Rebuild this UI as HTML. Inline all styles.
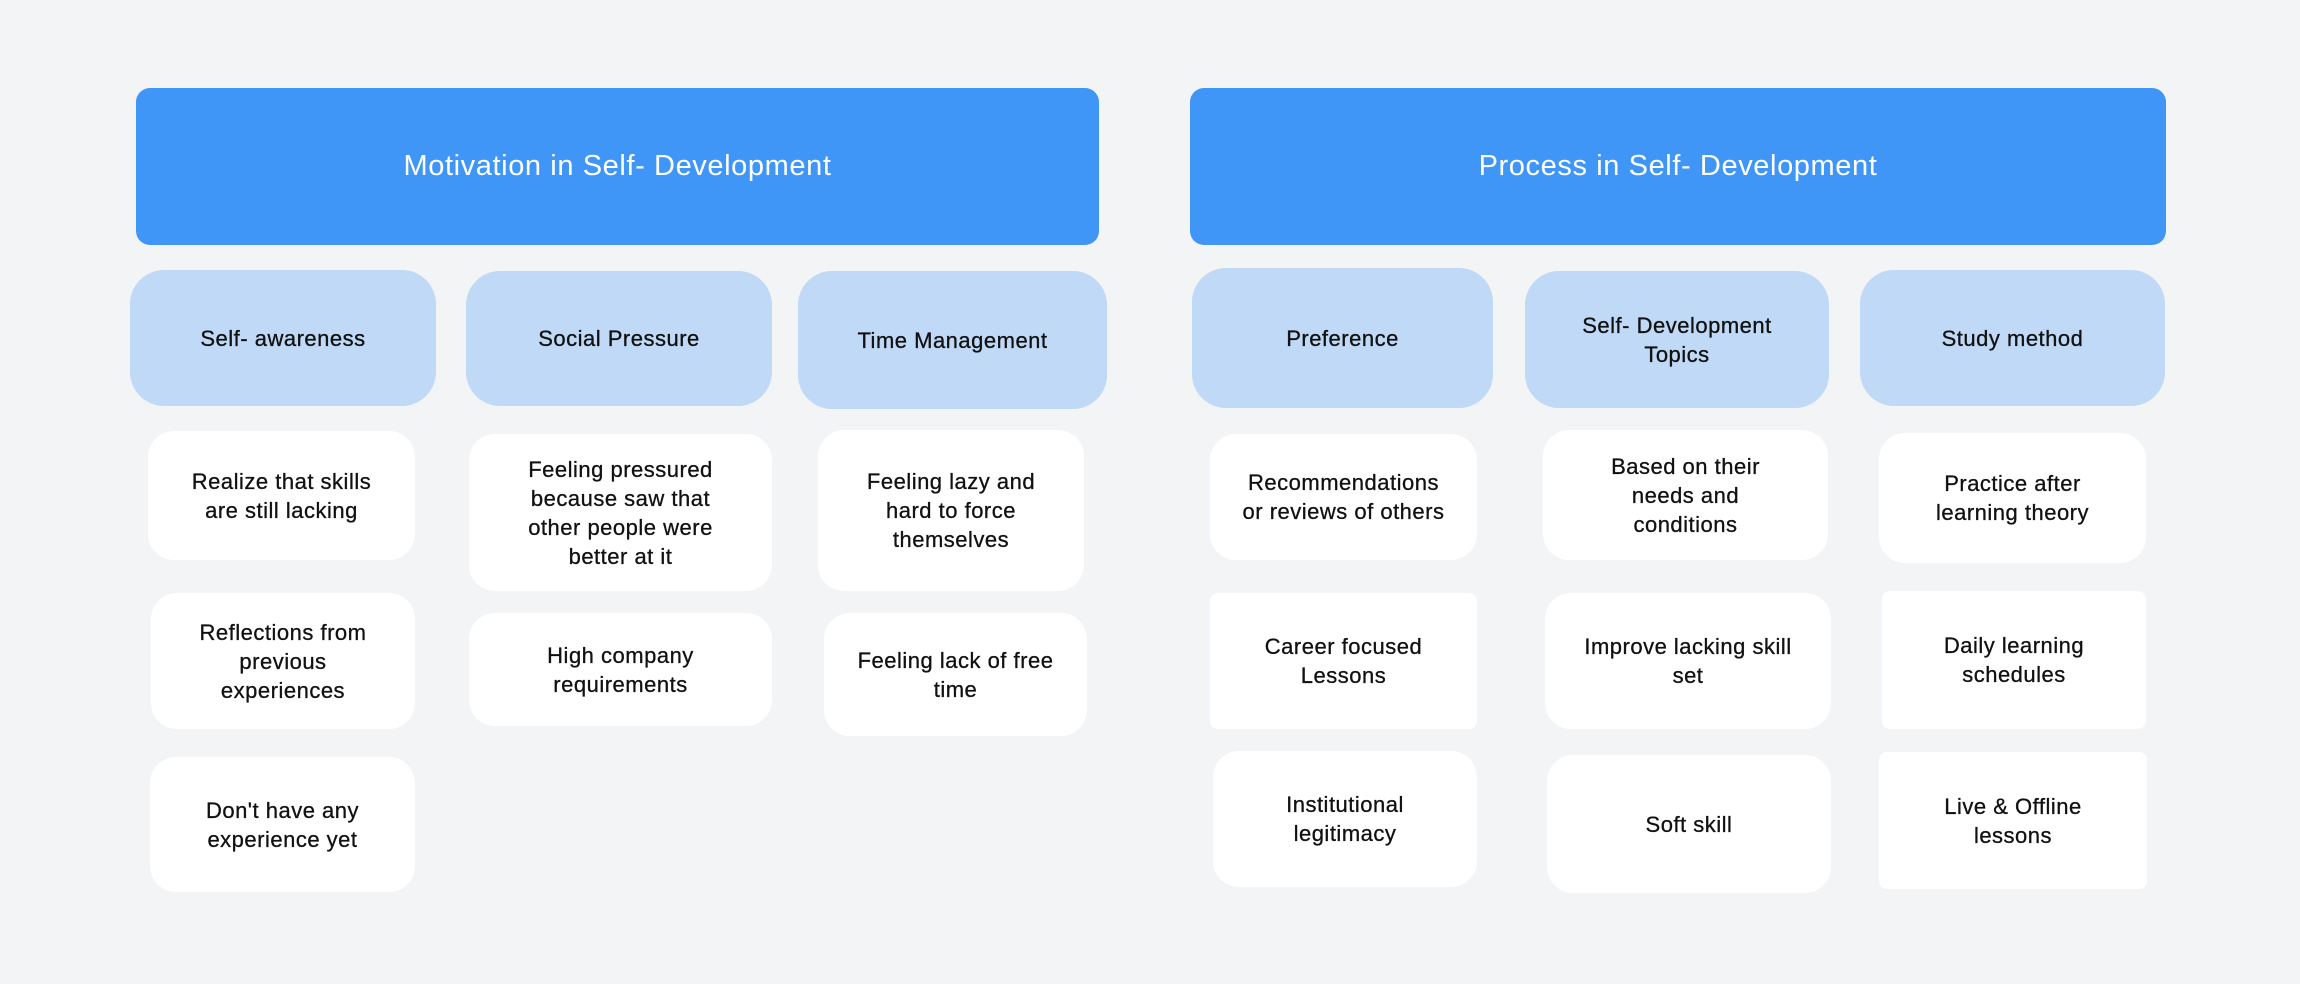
<!DOCTYPE html>
<html><head><meta charset="utf-8"><style>
body{margin:0;width:2300px;height:984px;background:#f3f4f6;position:relative;overflow:hidden;font-family:"Liberation Sans",sans-serif}
.b{position:absolute;display:flex;align-items:center;justify-content:center;text-align:center;box-sizing:border-box;color:#111;font-size:22px;line-height:29px;letter-spacing:0.5px;white-space:nowrap;-webkit-text-stroke:0.3px #111}
.h{background:#3f96f7;color:#fff;font-size:29px;border-radius:14px;letter-spacing:0.6px;-webkit-text-stroke:0}
.s{background:#bfd9f6;border-radius:34px}
.w{background:#fff;border-radius:26px}
.q{border-radius:8px}
</style></head><body>
<div class="b h" style="left:136px;top:88px;width:963px;height:157px">Motivation in Self- Development</div>
<div class="b h" style="left:1190px;top:88px;width:976px;height:157px">Process in Self- Development</div>

<div class="b s" style="left:130px;top:270px;width:306px;height:136px">Self- awareness</div>
<div class="b s" style="left:466px;top:271px;width:306px;height:135px">Social Pressure</div>
<div class="b s" style="left:798px;top:271px;width:309px;height:138px">Time Management</div>
<div class="b s" style="left:1192px;top:268px;width:301px;height:140px">Preference</div>
<div class="b s" style="left:1525px;top:271px;width:304px;height:137px">Self- Development<br>Topics</div>
<div class="b s" style="left:1860px;top:270px;width:305px;height:136px">Study method</div>

<div class="b w" style="left:148px;top:431px;width:267px;height:129px">Realize that skills<br>are still lacking</div>
<div class="b w" style="left:151px;top:593px;width:264px;height:136px">Reflections from<br>previous<br>experiences</div>
<div class="b w" style="left:150px;top:757px;width:265px;height:135px">Don't have any<br>experience yet</div>

<div class="b w" style="left:469px;top:434px;width:303px;height:157px">Feeling pressured<br>because saw that<br>other people were<br>better at it</div>
<div class="b w" style="left:469px;top:613px;width:303px;height:113px">High company<br>requirements</div>

<div class="b w" style="left:818px;top:430px;width:266px;height:161px">Feeling lazy and<br>hard to force<br>themselves</div>
<div class="b w" style="left:824px;top:613px;width:263px;height:123px">Feeling lack of free<br>time</div>

<div class="b w" style="left:1210px;top:434px;width:267px;height:126px">Recommendations<br>or reviews of others</div>
<div class="b w q" style="left:1210px;top:593px;width:267px;height:136px">Career focused<br>Lessons</div>
<div class="b w" style="left:1213px;top:751px;width:264px;height:136px">Institutional<br>legitimacy</div>

<div class="b w" style="left:1543px;top:430px;width:285px;height:130px">Based on their<br>needs and<br>conditions</div>
<div class="b w" style="left:1545px;top:593px;width:286px;height:136px">Improve lacking skill<br>set</div>
<div class="b w" style="left:1547px;top:755px;width:284px;height:138px">Soft skill</div>

<div class="b w" style="left:1879px;top:433px;width:267px;height:130px">Practice after<br>learning theory</div>
<div class="b w q" style="left:1882px;top:591px;width:264px;height:138px">Daily learning<br>schedules</div>
<div class="b w q" style="left:1879px;top:752px;width:268px;height:137px">Live &amp; Offline<br>lessons</div>
</body></html>
